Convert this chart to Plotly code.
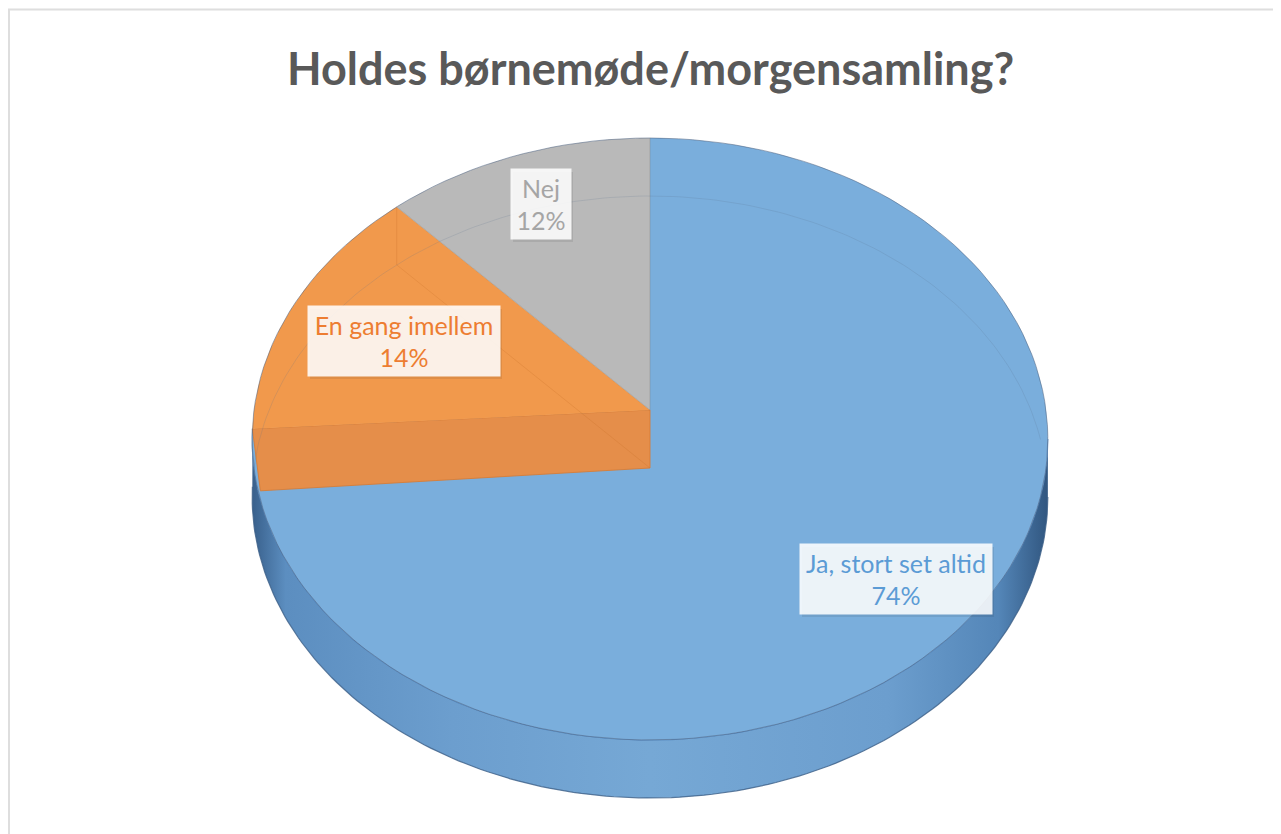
import numpy as np
import plotly.graph_objects as go

# ---------------- data ----------------
categories = ["Ja, stort set altid", "En gang imellem", "Nej"]
values = [74, 14, 12]
title_text = "Holdes børnemøde/morgensamling?"

# ---------------- style ----------------
top_colors = ["rgb(122,174,220)", "rgb(241,153,76)", "rgb(185,185,185)"]
text_colors = ["rgb(91,155,213)", "rgb(237,125,49)", "rgb(165,165,165)"]
face_color = "rgb(229,142,74)"
label_pos = [(896, 579), (404, 341), (541, 204)]   # label box centres (page px)
label_w = [184, 184, 52]
LABEL_H, LABEL_PAD = 62, 4

W, H = 1281, 834
OFF = 8                    # page body margin
CX, CY = 650, 410          # apex of the top face (px)
A, B, K = 298.2, 396.0, 0.0963   # perspective ellipse parameters
DEPTH = 58


def proj(theta_deg, dy=0.0):
    t = np.radians(np.asarray(theta_deg, dtype=float))
    s = 1.0 / (1.0 + K * np.cos(t))
    return CX + B * np.sin(t) * s, CY - A * np.cos(t) * s + dy


def arc(a0, a1, dy=0.0, n=160):
    th = np.linspace(a0, a1, n)
    return proj(th, dy)


total = float(sum(values))
bounds = [0.0]
for v in values:
    bounds.append(bounds[-1] + 360.0 * v / total)

theta_sil = np.degrees(np.arccos(-K))  # right silhouette angle

fig = go.Figure()

# --- blue side (front cylinder wall) ---
tx, ty = arc(theta_sil, bounds[1])
bx, by = arc(bounds[1], theta_sil, DEPTH)
fig.add_trace(go.Scatter(
    x=np.concatenate([tx, bx]), y=np.concatenate([ty, by]),
    mode="lines", fill="toself", line=dict(width=0),
    fillgradient=dict(type="horizontal", start=CX - B, stop=CX + B,
                      colorscale=[[0, "rgb(58,98,142)"], [0.04, "rgb(92,142,192)"],
                                  [0.25, "rgb(108,158,206)"], [0.5, "rgb(118,168,213)"],
                                  [0.8, "rgb(108,158,206)"], [0.94, "rgb(84,134,184)"],
                                  [1, "rgb(50,88,130)"]]),
    hoverinfo="skip", showlegend=False))
# outer bottom outline of the side
ox, oy = arc(theta_sil, bounds[1], DEPTH)
fig.add_trace(go.Scatter(x=ox, y=oy, mode="lines",
                         line=dict(color="rgba(60,95,135,0.8)", width=1.2),
                         hoverinfo="skip", showlegend=False))
# line where top meets side at front
fx, fy = arc(theta_sil, bounds[1])
fig.add_trace(go.Scatter(x=fx, y=fy, mode="lines",
                         line=dict(color="rgba(80,132,188,0.9)", width=1.2),
                         hoverinfo="skip", showlegend=False))

# --- top wedges ---
def wedge(i):
    rx, ry = arc(bounds[i], bounds[i + 1])
    return (np.concatenate([[CX], rx, [CX]]), np.concatenate([[CY], ry, [CY]]))

wx, wy = wedge(0)
fig.add_trace(go.Scatter(x=wx, y=wy, mode="lines", fill="toself",
                         fillcolor=top_colors[0], line=dict(width=0),
                         name=categories[0], hoverinfo="skip", showlegend=False))

# orange radial face (towards the blue slice)
px_, py_ = proj(bounds[1])
fig.add_trace(go.Scatter(
    x=[CX, float(px_), float(px_) + 8, CX, CX],
    y=[CY, float(py_), float(py_) + DEPTH + 4, CY + DEPTH, CY],
    mode="lines", fill="toself", fillcolor=face_color,
    line=dict(color="rgba(215,125,55,0.9)", width=1),
    hoverinfo="skip", showlegend=False))

for i in (1, 2):
    wx, wy = wedge(i)
    fig.add_trace(go.Scatter(x=wx, y=wy, mode="lines", fill="toself",
                             fillcolor=top_colors[i], line=dict(width=0),
                             name=categories[i], hoverinfo="skip", showlegend=False))

# faint see-through edges (bottom rim at the back)
hx, hy = arc(bounds[1], 360 + (180 - theta_sil), DEPTH)
fig.add_trace(go.Scatter(x=hx, y=hy, mode="lines",
                         line=dict(color="rgba(90,110,140,0.18)", width=1),
                         hoverinfo="skip", showlegend=False))
qx, qy = proj(bounds[2])
qbx, qby = proj(bounds[2], DEPTH)
fig.add_trace(go.Scatter(x=[float(qx), float(qbx), CX], y=[float(qy), float(qby), CY + DEPTH],
                         mode="lines", line=dict(color="rgba(200,110,40,0.25)", width=1),
                         hoverinfo="skip", showlegend=False))

# slice separators on top face
for b in (bounds[2], bounds[3]):
    sx, sy = proj(b)
    fig.add_trace(go.Scatter(x=[CX, float(sx)], y=[CY, float(sy)], mode="lines",
                             line=dict(color="rgba(120,120,120,0.35)", width=1),
                             hoverinfo="skip", showlegend=False))

# rim outline of the top face
rx, ry = arc(0, 360)
fig.add_trace(go.Scatter(x=rx, y=ry, mode="lines",
                         line=dict(color="rgba(80,100,130,0.55)", width=1),
                         hoverinfo="skip", showlegend=False))

# --- labels ---
annotations = []
shapes = [dict(type="rect", xref="x", yref="y", x0=9, y0=9.5, x1=W + 40, y1=H + 40,
               line=dict(color="rgb(222,222,222)", width=2), layer="below")]
for i, cat in enumerate(categories):
    lx, ly = label_pos[i]
    hw = label_w[i] / 2 + LABEL_PAD
    hh = LABEL_H / 2 + LABEL_PAD
    # soft drop shadow behind the label box
    shapes.append(dict(type="rect", xref="x", yref="y",
                       x0=lx - hw + 2, x1=lx + hw + 2, y0=ly - hh + 3, y1=ly + hh + 3,
                       fillcolor="rgba(0,0,0,0.08)", line=dict(width=0), layer="above"))
    annotations.append(dict(
        x=lx, y=ly, xref="x", yref="y", showarrow=False,
        text=f"{cat}<br>{values[i]}%",
        font=dict(family="Lato", size=25, color=text_colors[i]),
        bgcolor="rgba(255,255,255,0.87)", borderpad=LABEL_PAD,
        width=label_w[i], height=LABEL_H, align="center", valign="middle",
        xanchor="center", yanchor="middle"))

annotations.append(dict(
    x=650, y=68, xref="x", yref="y", showarrow=False,
    text=f"<b>{title_text}</b>",
    font=dict(family="Lato", size=45, color="rgb(89,89,89)"),
    xanchor="center", yanchor="middle"))

fig.update_layout(
    width=W, height=H, margin=dict(l=0, r=0, t=0, b=0),
    paper_bgcolor="white", plot_bgcolor="white",
    xaxis=dict(range=[OFF, W + OFF], visible=False, fixedrange=True),
    yaxis=dict(range=[H + OFF, OFF], visible=False, fixedrange=True),
    annotations=annotations,
    shapes=shapes,
    showlegend=False,
)

fig.write_html("out.html")
